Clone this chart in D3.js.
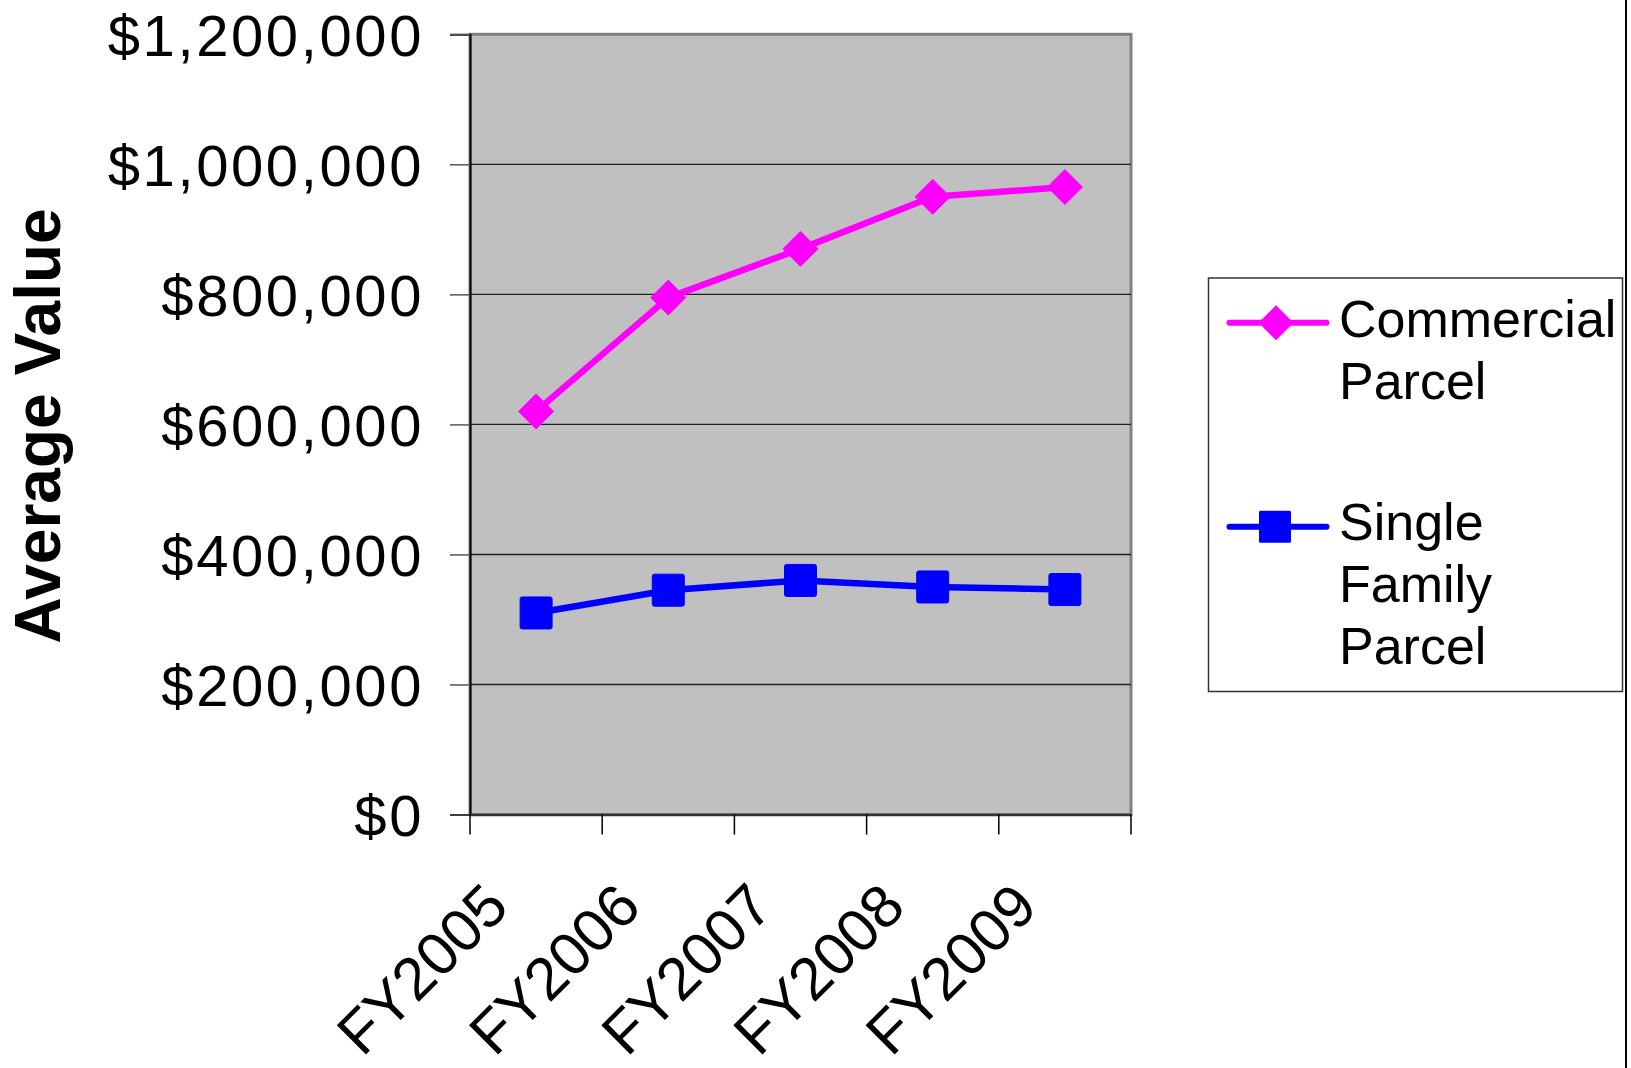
<!DOCTYPE html>
<html>
<head>
<meta charset="utf-8">
<script src="https://cdn.jsdelivr.net/npm/d3@7"></script>
<style>
  html, body { margin: 0; padding: 0; background: #ffffff; }
  svg { display: block; }
  text { font-family: "Liberation Sans", Arial, Helvetica, sans-serif; fill: #000; }
</style>
</head>
<body>
<svg id="chart" width="1631" height="1068"></svg>
<script>
// Fiscal years on the category axis
const categories = ["FY2005", "FY2006", "FY2007", "FY2008", "FY2009"];

// Average parcel values per fiscal year
const commercialValues = [620000, 795000, 870000, 950000, 965000];
const singleFamilyValues = [310000, 345000, 360000, 350000, 346000];

// Value axis ticks
const yTicks = [0, 200000, 400000, 600000, 800000, 1000000, 1200000];

// Legend labels (wrapped lines)
const commercialLabel = ["Commercial", "Parcel"];
const singleFamilyLabel = ["Single", "Family", "Parcel"];

const svg = d3.select("#chart");

const plot = { left: 470, right: 1131, top: 34.3, bottom: 814.5 };

const x = d3.scaleBand()
  .domain(categories)
  .range([plot.left, plot.right])
  .paddingInner(0)
  .paddingOuter(0);

const y = d3.scaleLinear()
  .domain([0, 1200000])
  .range([plot.bottom, plot.top]);

const fmt = v => "$" + d3.format(",")(v);

// Plot area background and border
svg.append("rect")
  .attr("x", plot.left)
  .attr("y", plot.top)
  .attr("width", plot.right - plot.left)
  .attr("height", plot.bottom - plot.top)
  .attr("fill", "#c0c0c0")
  .attr("stroke", "#808080")
  .attr("stroke-width", 3);

// Horizontal gridlines
svg.append("g")
  .selectAll("line")
  .data(yTicks.filter(d => d > 0 && d < 1200000))
  .join("line")
  .attr("x1", plot.left)
  .attr("x2", plot.right)
  .attr("y1", d => y(d))
  .attr("y2", d => y(d))
  .attr("stroke", "#222")
  .attr("stroke-width", 1.4);

// Value axis
const yAxis = d3.axisLeft(y)
  .tickValues(yTicks)
  .tickSize(20)
  .tickPadding(26)
  .tickFormat(fmt);

const gy = svg.append("g")
  .attr("transform", `translate(${plot.left},0)`)
  .call(yAxis);
gy.select(".domain").attr("stroke", "#000").attr("stroke-width", 2);
gy.selectAll(".tick line").attr("stroke", "#555").attr("stroke-width", 1.5);
gy.selectAll(".tick text")
  .attr("font-size", 58)
  .attr("letter-spacing", "2.6px")
  .attr("dy", "0.36em")
  .style("font-family", "'Liberation Sans', Arial, sans-serif")
  .attr("fill", "#000");

// Category axis with ticks on category boundaries
const xAxis = d3.axisBottom(x).tickSize(0).tickFormat("");
const gx = svg.append("g")
  .attr("transform", `translate(0,${plot.bottom})`)
  .call(xAxis);
gx.select(".domain").attr("stroke", "#333").attr("stroke-width", 2.5);

const boundaries = categories.map(c => x(c)).concat([x(categories[categories.length - 1]) + x.bandwidth()]);
gx.append("g")
  .selectAll("line")
  .data(boundaries)
  .join("line")
  .attr("x1", d => d)
  .attr("x2", d => d)
  .attr("y1", 0)
  .attr("y2", 20)
  .attr("stroke", "#000")
  .attr("stroke-width", 1.5);

// Rotated category labels
svg.append("g")
  .selectAll("text")
  .data(categories)
  .join("text")
  .attr("transform", d => `translate(${x(d) + x.bandwidth() / 2 - 25},909.5) rotate(-45)`)
  .attr("text-anchor", "end")
  .attr("font-size", 60)
  .text(d => d);

// Value axis title
svg.append("text")
  .attr("transform", "translate(60,426) rotate(-90)")
  .attr("text-anchor", "middle")
  .attr("font-size", 64)
  .attr("font-weight", "bold")
  .text("Average Value");

const cx = d => x(d) + x.bandwidth() / 2;

const line = d3.line();

const series = [
  { name: "commercial", values: commercialValues, color: "#ff00ff", marker: "diamond" },
  { name: "single", values: singleFamilyValues, color: "#0000ff", marker: "square" }
];

const diamondPath = (px, py, r) => `M${px},${py - r}L${px + r},${py}L${px},${py + r}L${px - r},${py}Z`;

series.forEach(s => {
  const pts = categories.map((c, i) => [cx(c), y(s.values[i])]);
  svg.append("path")
    .attr("d", line(pts))
    .attr("fill", "none")
    .attr("stroke", s.color)
    .attr("stroke-width", 6.5)
    .attr("stroke-linejoin", "round");

  const g = svg.append("g");
  if (s.marker === "diamond") {
    g.selectAll("path")
      .data(pts)
      .join("path")
      .attr("d", p => diamondPath(p[0], p[1], 17.5))
      .attr("fill", s.color)
      .attr("stroke", s.color)
      .attr("stroke-width", 1);
  } else {
    g.selectAll("rect")
      .data(pts)
      .join("rect")
      .attr("x", p => p[0] - 16)
      .attr("y", p => p[1] - 16)
      .attr("width", 32)
      .attr("height", 32)
      .attr("rx", 2)
      .attr("fill", s.color)
      .attr("stroke", s.color)
      .attr("stroke-width", 1);
  }
});

// Legend
const legend = svg.append("g");
legend.append("rect")
  .attr("x", 1208.5)
  .attr("y", 278)
  .attr("width", 414)
  .attr("height", 413.5)
  .attr("fill", "#fff")
  .attr("stroke", "#333")
  .attr("stroke-width", 1.5);

const legendEntries = [
  { color: "#ff00ff", marker: "diamond", lineY: 322.7, lines: commercialLabel, baseline: 337 },
  { color: "#0000ff", marker: "square", lineY: 526.7, lines: singleFamilyLabel, baseline: 540 }
];

legendEntries.forEach(e => {
  legend.append("line")
    .attr("x1", 1229.5)
    .attr("x2", 1326.5)
    .attr("y1", e.lineY)
    .attr("y2", e.lineY)
    .attr("stroke", e.color)
    .attr("stroke-width", 6)
    .attr("stroke-linecap", "round");
  if (e.marker === "diamond") {
    legend.append("path")
      .attr("d", diamondPath(1276, e.lineY, 17.5))
      .attr("fill", e.color);
  } else {
    legend.append("rect")
      .attr("x", 1259)
      .attr("y", e.lineY - 16)
      .attr("width", 32)
      .attr("height", 32)
      .attr("rx", 1.5)
      .attr("fill", e.color);
  }
  legend.append("g")
    .selectAll("text")
    .data(e.lines)
    .join("text")
    .attr("x", 1339)
    .attr("y", (d, i) => e.baseline + i * 61.8)
    .attr("font-size", 52)
    .text(d => d);
});

// Chart area right edge
svg.append("line")
  .attr("x1", 1626)
  .attr("x2", 1626)
  .attr("y1", 0)
  .attr("y2", 1068)
  .attr("stroke", "#000")
  .attr("stroke-width", 2);
</script>
</body>
</html>
